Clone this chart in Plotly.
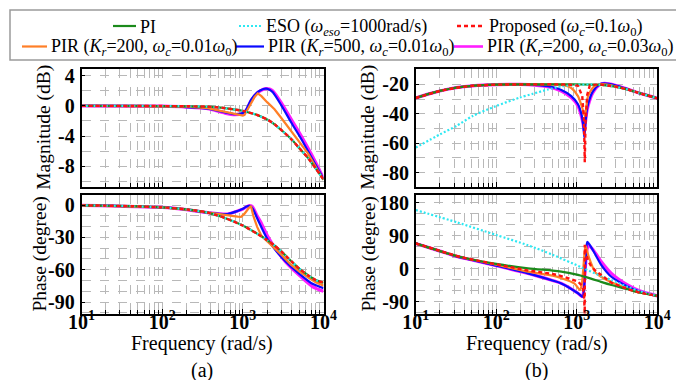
import plotly.graph_objects as go

# ---------------- data ----------------
# (a) magnitude (dB)
a_mag_pi_f = [10, 30, 100, 200, 366, 600, 1000, 1535, 2000, 2472, 3000, 3980, 5000, 6410, 8000, 10000]
a_mag_pi = [0, 0, -0.02, -0.05, -0.1, -0.3, -0.67, -1.24, -1.8, -2.44, -3.2, -4.4, -5.6, -6.9, -8.3, -9.8]
a_mag_eso_f = [10, 30, 100, 200, 366, 600, 1000, 1535, 2000, 2472, 3000, 3980, 5000, 6410, 8000, 10000]
a_mag_eso = [0, 0, -0.02, -0.05, -0.1, -0.3, -0.67, -1.24, -1.8, -2.44, -3.2, -4.4, -5.6, -6.9, -8.3, -9.8]
a_mag_prop_f = [10, 30, 100, 200, 366, 600, 1000, 1535, 2000, 2472, 3000, 3980, 5000, 6410, 8000, 10000]
a_mag_prop = [0, 0, -0.02, -0.05, -0.1, -0.3, -0.67, -1.24, -1.8, -2.44, -3.2, -4.4, -5.6, -6.9, -8.3, -9.8]
a_mag_pir1_f = [10, 100, 200, 366, 600, 863, 1000, 1050, 1200, 1400, 1530, 1700, 2000, 2470, 3000, 3980, 5000, 6410, 8000, 10000]
a_mag_pir1 = [0, -0.03, -0.1, -0.3, -0.75, -1.1, -1.3, -1.2, 0.0, 1.2, 1.65, 1.3, 0.5, -0.44, -1.6, -3.3, -4.8, -6.3, -8.1, -9.8]
a_mag_pir2_f = [10, 100, 200, 366, 600, 800, 1000, 1100, 1262, 1535, 1800, 1950, 2150, 2355, 2990, 3980, 5300, 7060, 10000]
a_mag_pir2 = [0, -0.04, -0.15, -0.36, -0.85, -1.1, -0.95, -0.5, 0.8, 1.85, 2.25, 2.3, 2.15, 1.8, 0.1, -2.2, -4.4, -6.8, -9.7]
a_mag_pir3_f = [10, 100, 200, 366, 600, 800, 1000, 1100, 1262, 1535, 1800, 1950, 2150, 2355, 2990, 3980, 5300, 7060, 10000]
a_mag_pir3 = [0, -0.04, -0.15, -0.36, -0.95, -1.15, -1.0, -0.6, 0.67, 1.78, 2.2, 2.3, 2.25, 2.0, 0.44, -1.78, -4.0, -6.4, -9.6]

# (a) phase (degree)
a_ph_pi_f = [10, 30, 100, 200, 366, 600, 1000, 1535, 2000, 2472, 3000, 3980, 5000, 6410, 8000, 10000]
a_ph_pi = [-0.3, -0.8, -2.2, -4, -7, -12, -19, -27, -32.5, -37.5, -43, -52, -59, -65, -69.5, -72]
a_ph_eso_f = [10, 30, 100, 200, 366, 600, 1000, 1535, 2000, 2472, 3000, 3980, 5000, 6410, 8000, 10000]
a_ph_eso = [-0.3, -0.8, -2.2, -4, -7, -12, -19, -27, -32.5, -37.5, -43, -52, -59, -65, -69.5, -72]
a_ph_prop_f = [10, 30, 100, 200, 366, 600, 1000, 1535, 2000, 2472, 3000, 3980, 5000, 6410, 8000, 10000]
a_ph_prop = [-0.3, -0.8, -2.2, -4, -7, -12, -19, -27, -32.5, -37.5, -43, -52, -59, -65, -69.5, -72]
a_ph_pir1_f = [10, 100, 200, 366, 645, 863, 950, 1050, 1180, 1260, 1350, 1500, 1700, 2000, 2472, 3000, 3980, 5000, 6410, 8000, 10000]
a_ph_pir1 = [-0.3, -2.2, -4.3, -7.2, -9.8, -10.8, -11, -8, -3, -0.8, -10, -20, -28.5, -33.5, -39.5, -46, -55.5, -61.5, -67, -71.5, -74.7]
a_ph_pir2_f = [10, 100, 200, 366, 645, 863, 1000, 1100, 1210, 1300, 1375, 1500, 1660, 2000, 2520, 3370, 4980, 7300, 10000]
a_ph_pir2 = [-0.3, -2.2, -4.3, -7, -8.3, -5.5, -3.5, -1.5, -0.8, -2.5, -5.5, -12, -19, -31, -41.5, -52, -63.5, -73, -77]
a_ph_pir3_f = [10, 100, 200, 366, 645, 863, 1000, 1100, 1210, 1300, 1375, 1500, 1660, 2000, 2520, 3370, 4980, 7300, 10000]
a_ph_pir3 = [-0.3, -2.2, -4.3, -7, -8.3, -5.5, -3.8, -1.8, -0.6, -1.2, -4, -10, -15.5, -28, -40, -52.5, -65, -75.6, -80]

# (b) magnitude (dB)
b_mag_pi_f = [10, 15, 20, 32, 51, 100, 200, 500, 1000, 1500, 2000, 3000, 4325, 6000, 10000]
b_mag_pi = [-29.3, -26.3, -24.5, -22.3, -21, -20.2, -20, -20, -20.1, -20.2, -20.4, -21.6, -23.6, -26, -29.5]
b_mag_eso_f = [10, 20, 32, 51, 100, 196, 286, 440, 645, 1000, 1500, 2000, 3000, 4325, 6000, 10000]
b_mag_eso = [-63, -54, -48.3, -41.5, -34.7, -29, -26.4, -23.5, -21.4, -20.3, -20.1, -20.3, -21.6, -23.6, -26, -29.5]
b_mag_prop_f = [10, 15, 20, 32, 51, 100, 200, 500, 800, 1035, 1170, 1230, 1257, 1285, 1350, 1450, 1700, 2000, 3000, 4325, 6000, 10000]
b_mag_prop = [-29.3, -26.3, -24.5, -22.3, -21, -20.2, -20, -20, -20.2, -21, -28, -45, -73, -45, -27, -21, -20.2, -20.2, -21.5, -23.6, -26, -29.5]
b_mag_pir1_f = [10, 15, 20, 32, 51, 100, 200, 500, 700, 855, 1035, 1170, 1257, 1380, 1550, 1690, 2000, 2500, 3000, 4325, 6000, 10000]
b_mag_pir1 = [-29.3, -26.3, -24.5, -22.3, -21, -20.2, -20, -20.1, -20.8, -22.5, -28, -36, -41.5, -28, -23, -21, -19.8, -20.3, -21.4, -23.5, -26, -29.5]
b_mag_pir2_f = [10, 15, 20, 32, 51, 100, 200, 300, 440, 643, 855, 1035, 1138, 1200, 1240, 1280, 1330, 1380, 1585, 1927, 2200, 3000, 4325, 6000, 10000]
b_mag_pir2 = [-29.3, -26.3, -24.5, -22.3, -21, -20.2, -20.1, -20.4, -21.3, -23.8, -28, -33.5, -40, -47, -56, -47, -38, -33.5, -24.8, -20, -19.3, -20.6, -23.4, -26, -29.5]
b_mag_pir3_f = [10, 15, 20, 32, 51, 100, 200, 300, 440, 643, 855, 1035, 1138, 1200, 1240, 1280, 1330, 1380, 1585, 1927, 2200, 3000, 4325, 6000, 10000]
b_mag_pir3 = [-29.3, -26.3, -24.5, -22.3, -21, -20.2, -20.1, -20.5, -21.6, -24.5, -29, -34.7, -41.5, -47, -52, -46, -39, -34.7, -25.7, -20.2, -19.4, -20.6, -23.4, -26, -29.5]

# (b) phase (degree)
b_ph_pi_f = [10, 20, 33, 50, 100, 248, 500, 643, 1035, 1500, 2000, 2690, 4325, 6000, 10000]
b_ph_pi = [69, 48, 34, 25, 13, 1, -5, -8, -17, -27, -36, -44.5, -56, -65, -74]
b_ph_eso_f = [10, 33, 100, 248, 500, 1138, 2000, 2690, 4325, 6000, 10000]
b_ph_eso = [160, 126, 92, 64, 38, 4, -20, -31, -50, -61, -74]
b_ph_prop_f = [10, 20, 33, 50, 100, 248, 500, 643, 1035, 1150, 1200, 1235, 1250, 1256, 1258, 1290, 1380, 1500, 1700, 2200, 2690, 4325, 6000, 10000]
b_ph_prop = [69, 48, 34, 25, 12, -5, -14, -20, -35, -45, -55, -80, -110, -140, 65, 45, 22, 8, -5, -25, -38, -56, -65, -74]
b_ph_pir1_f = [10, 20, 33, 50, 100, 248, 500, 643, 930, 1100, 1150, 1200, 1250, 1285, 1330, 1420, 1550, 1700, 2000, 2690, 3500, 4325, 6000, 10000]
b_ph_pir1 = [69, 48, 34, 25, 11, -8, -19, -26, -40, -58, -45, -5, 45, 62, 52, 30, 8, -10, -22, -37, -47, -55, -65, -74]
b_ph_pir2_f = [10, 20, 33, 50, 100, 248, 500, 643, 1035, 1150, 1190, 1230, 1270, 1310, 1350, 1450, 1667, 2020, 2690, 4325, 6000, 10000]
b_ph_pir2 = [69, 48, 33, 24, 8.5, -12.6, -32, -40, -67, -75, -76, -55, -5, 50, 73, 65, 42, 10, -22, -49, -62, -74]
b_ph_pir3_f = [10, 20, 33, 50, 100, 248, 500, 643, 1035, 1160, 1200, 1240, 1280, 1330, 1400, 1550, 1800, 2020, 2690, 4325, 6000, 10000]
b_ph_pir3 = [69, 48, 33, 24, 8, -12.6, -32, -40, -67, -76, -70, -40, 5, 48, 64, 55, 35, 19, -12.6, -45, -60, -74]

# tick values / labels
x_ticks = [10, 100, 1000, 10000]
x_ticktext = ["10<sup>1</sup>", "10<sup>2</sup>", "10<sup>3</sup>", "10<sup>4</sup>"]
a_mag_ticks = [-8, -4, 0, 4]
b_mag_ticks = [-80, -60, -40, -20]
a_ph_ticks = [-90, -60, -30, 0]
b_ph_ticks = [-90, 0, 90, 180]

names = {
    "pi": "PI",
    "eso": "ESO (<i>ω</i><sub><i>eso</i></sub>=1000rad/s)",
    "prop": "Proposed (<i>ω</i><sub><i>c</i></sub>=0.1<i>ω</i><sub>0</sub>)",
    "pir1": "PIR (<i>K<sub>r</sub></i>=200, <i>ω</i><sub><i>c</i></sub>=0.01<i>ω</i><sub>0</sub>)",
    "pir2": "PIR (<i>K<sub>r</sub></i>=500, <i>ω</i><sub><i>c</i></sub>=0.01<i>ω</i><sub>0</sub>)",
    "pir3": "PIR (<i>K<sub>r</sub></i>=200, <i>ω</i><sub><i>c</i></sub>=0.03<i>ω</i><sub>0</sub>)",
}

# ---------------- styling ----------------
FONT = "Liberation Serif"
W, H = 684, 380
styles = {
    "pir3": dict(color="#ff1dff", width=3.2, dash="solid"),
    "pir2": dict(color="#0a0aff", width=2.2, dash="solid"),
    "pir1": dict(color="#ff7f27", width=2.2, dash="solid"),
    "pi": dict(color="#1b8a1b", width=2.2, dash="solid"),
    "eso": dict(color="#2ee8f2", width=2.2, dash="2px,2px"),
    "prop": dict(color="#ff1010", width=2.4, dash="4px,3px"),
}
order = ["pir3", "pir2", "pir1", "pi", "eso", "prop"]

panels = [
    ("x", "y", {"pi": (a_mag_pi_f, a_mag_pi), "eso": (a_mag_eso_f, a_mag_eso), "prop": (a_mag_prop_f, a_mag_prop),
                "pir1": (a_mag_pir1_f, a_mag_pir1), "pir2": (a_mag_pir2_f, a_mag_pir2), "pir3": (a_mag_pir3_f, a_mag_pir3)}),
    ("x2", "y2", {"pi": (b_mag_pi_f, b_mag_pi), "eso": (b_mag_eso_f, b_mag_eso), "prop": (b_mag_prop_f, b_mag_prop),
                  "pir1": (b_mag_pir1_f, b_mag_pir1), "pir2": (b_mag_pir2_f, b_mag_pir2), "pir3": (b_mag_pir3_f, b_mag_pir3)}),
    ("x3", "y3", {"pi": (a_ph_pi_f, a_ph_pi), "eso": (a_ph_eso_f, a_ph_eso), "prop": (a_ph_prop_f, a_ph_prop),
                  "pir1": (a_ph_pir1_f, a_ph_pir1), "pir2": (a_ph_pir2_f, a_ph_pir2), "pir3": (a_ph_pir3_f, a_ph_pir3)}),
    ("x4", "y4", {"pi": (b_ph_pi_f, b_ph_pi), "eso": (b_ph_eso_f, b_ph_eso), "prop": (b_ph_prop_f, b_ph_prop),
                  "pir1": (b_ph_pir1_f, b_ph_pir1), "pir2": (b_ph_pir2_f, b_ph_pir2), "pir3": (b_ph_pir3_f, b_ph_pir3)}),
]

fig = go.Figure()
for i, (xa, ya, data) in enumerate(panels):
    for key in order:
        fx, fy = data[key]
        st = styles[key]
        sharp = (key == "pir1" and xa in ("x", "x3")) or (xa in ("x2", "x4") and key == "prop")
        fig.add_trace(go.Scatter(
            x=fx, y=fy, mode="lines", name=names[key], xaxis=xa, yaxis=ya,
            line=dict(color=st["color"], width=st["width"], dash=st["dash"],
                      shape="linear" if sharp else "spline", smoothing=0.7),
            showlegend=False, hoverinfo="skip",
        ))

grid = "#b8b8b8"
minor_x = [k * 10 ** d for d in range(1, 4) for k in range(2, 10)]
xdomL = [73.5 / W, 315.5 / W]
xdomR = [407.7 / W, 649.3 / W]
ydomT = [1 - 178.5 / H, 1 - 61 / H]
ydomB = [1 - 306 / H, 1 - 187 / H]

tickfont = dict(family=FONT, size=20, color="black", weight="bold")


def xax(dom, anchor, labels):
    return dict(
        type="log", range=[1, 4], domain=dom, anchor=anchor,
        tickvals=x_ticks, ticktext=x_ticktext,
        showticklabels=labels, tickfont=tickfont, ticklabelstandoff=-11,
        ticks="inside", ticklen=5, tickcolor="black",
        showline=True, mirror=True, linecolor="black", linewidth=1.5,
        showgrid=True, gridcolor=grid, griddash="dash", gridwidth=1,
        minor=dict(tickvals=minor_x, ticks="inside", ticklen=4, tickcolor="black",
                   showgrid=True, gridcolor=grid, griddash="dash", gridwidth=1),
        zeroline=False,
    )


def yax(dom, anchor, rng, tv, mdt):
    return dict(
        range=rng, domain=dom, anchor=anchor, tickvals=tv, ticktext=[str(v) for v in tv],
        tickfont=tickfont, ticks="inside", ticklen=4, tickcolor="black", ticklabelstandoff=1,
        showline=True, mirror=True, linecolor="black", linewidth=1.5,
        showgrid=True, gridcolor=grid, griddash="dash", gridwidth=1,
        minor=dict(dtick=mdt, showgrid=True, gridcolor=grid, griddash="dash", gridwidth=1),
        zeroline=False,
    )


fig.update_layout(
    width=W, height=H, margin=dict(l=0, r=0, t=0, b=0, autoexpand=False),
    paper_bgcolor="white", plot_bgcolor="white", showlegend=False,
    font=dict(family=FONT, color="black"),
    xaxis=xax(xdomL, "y", False), yaxis=yax(ydomT, "x", [-10.7, 4.9], a_mag_ticks, 2),
    xaxis2=xax(xdomR, "y2", False), yaxis2=yax(ydomT, "x2", [-89.4, -9.6], b_mag_ticks, 10),
    xaxis3=xax(xdomL, "y3", True), yaxis3=yax(ydomB, "x3", [-101, 9.3], a_ph_ticks, 10),
    xaxis4=xax(xdomR, "y4", True), yaxis4=yax(ydomB, "x4", [-123.5, 201], b_ph_ticks, 30),
)

# ---------------- legend (boxed, two rows) ----------------
legend_pos = {  # key: (line x0, line x1, row y) in pixels
    "pi": (105, 128, 18), "eso": (231, 254, 18), "prop": (449, 477, 18),
    "pir1": (14, 39, 38.5), "pir2": (228, 256, 38.5), "pir3": (446, 475, 38.5),
}
shapes = [dict(type="rect", xref="paper", yref="paper", x0=2 / W, x1=678 / W,
               y0=1 - 52 / H, y1=1 - 2 / H, line=dict(color="#9a9a9a", width=1.5))]
for key, (x0, x1, yy) in legend_pos.items():
    st = styles[key]
    shapes.append(dict(type="line", xref="paper", yref="paper", x0=x0 / W, x1=x1 / W,
                       y0=1 - yy / H, y1=1 - yy / H,
                       line=dict(color=st["color"], width=min(st["width"], 2.6), dash=st["dash"])))
    fig.add_annotation(text=names[key], x=(x1 + 2) / W, y=1 - (yy + 1) / H, xref="paper", yref="paper",
                       xanchor="left", yanchor="middle", showarrow=False,
                       font=dict(family=FONT, size=18, color="black"))
fig.update_layout(shapes=shapes)

ann = [
    ("Magnitude (dB)", 36, (61 + 178.5) / 2, -90, 19.5),
    ("Phase (degree)", 31, (187 + 306) / 2, -90, 19.5),
    ("Magnitude (dB)", 360, (61 + 178.5) / 2, -90, 19.5),
    ("Phase (degree)", 360, (187 + 306) / 2, -90, 19.5),
    ("Frequency (rad/s)", (73.5 + 315.5) / 2, 335, 0, 20),
    ("Frequency (rad/s)", (407.7 + 649.3) / 2, 335, 0, 20),
    ("(a)", (73.5 + 315.5) / 2, 362, 0, 20),
    ("(b)", (407.7 + 649.3) / 2, 362, 0, 20),
]
for txt, xp, yp, ang, fs in ann:
    fig.add_annotation(text=txt, x=xp / W, y=1 - yp / H, xref="paper", yref="paper",
                       xanchor="center", yanchor="middle", showarrow=False, textangle=ang,
                       font=dict(family=FONT, size=fs, color="black"))

fig.write_html("out.html")
